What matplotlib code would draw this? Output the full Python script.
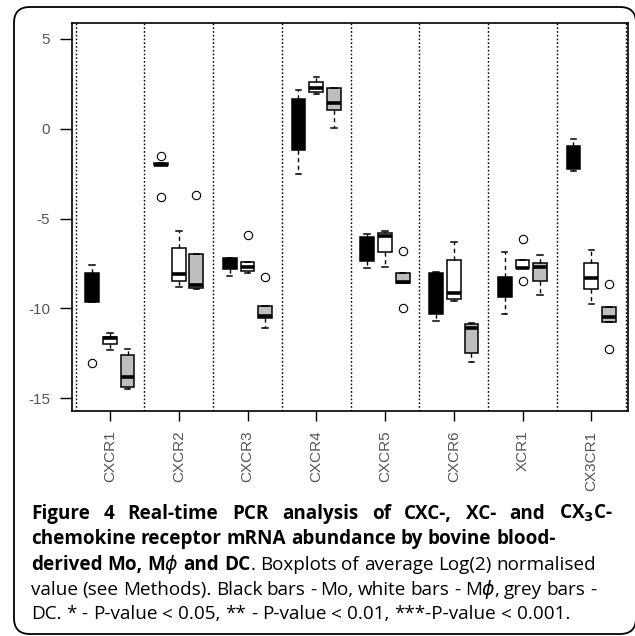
import matplotlib.pyplot as plt
from matplotlib.patches import FancyBboxPatch

plt.rcParams['axes.unicode_minus'] = False

genes = ['CXCR1', 'CXCR2', 'CXCR3', 'CXCR4', 'CXCR5', 'CXCR6', 'XCR1', 'CX3CR1']

# Mo (black boxes)
mo_lo = [-9.65, -2.04, -8.19, -2.52, -7.77, -10.7, -10.34, -2.34]
mo_q1 = [-9.65, -2.04, -7.83, -1.18, -7.37, -10.32, -9.35, -2.26]
mo_med = [-9.2, -2.0, -7.6, 0.2, -6.5, -9.0, -8.8, -1.6]
mo_q3 = [-8.05, -1.89, -7.22, 1.64, -6.03, -8.02, -8.24, -0.94]
mo_hi = [-7.6, -1.89, -7.22, 2.16, -5.85, -8.0, -6.88, -0.59]
mo_out = [[-13.05], [-1.5, -3.8], [], [], [], [], [], []]

# M-phi (white boxes)
mf_lo = [-12.3, -8.8, -8.05, 1.92, -7.7, -9.6, -7.77, -9.78]
mf_q1 = [-12.0, -8.48, -7.91, 2.05, -6.88, -9.5, -7.77, -8.95]
mf_med = [-11.65, -8.09, -7.68, 2.29, -5.97, -9.15, -7.74, -8.3]
mf_q3 = [-11.62, -6.63, -7.41, 2.59, -5.83, -7.33, -7.29, -7.5]
mf_hi = [-11.4, -5.7, -7.41, 2.87, -5.71, -6.3, -7.29, -6.77]
mf_out = [[], [], [-5.92], [], [], [], [-6.14, -8.48], []]

# DC (grey boxes)
dc_lo = [-14.5, -8.9, -11.12, 0.03, -8.61, -12.97, -9.26, -10.75]
dc_q1 = [-14.39, -8.89, -10.56, 1.03, -8.61, -12.51, -8.48, -10.75]
dc_med = [-13.82, -8.68, -10.43, 1.42, -8.52, -11.11, -7.68, -10.47]
dc_q3 = [-12.58, -7.0, -9.87, 2.25, -8.05, -10.9, -7.5, -9.95]
dc_hi = [-12.25, -7.0, -9.87, 2.25, -8.05, -10.82, -7.03, -9.95]
dc_out = [[], [-3.7], [-8.26], [], [-6.79, -10.0], [], [], [-8.63, -12.27]]

groups = [
    (mo_lo, mo_q1, mo_med, mo_q3, mo_hi, mo_out, 'black', -0.26),
    (mf_lo, mf_q1, mf_med, mf_q3, mf_hi, mf_out, 'white', 0.0),
    (dc_lo, dc_q1, dc_med, dc_q3, dc_hi, dc_out, '#bebebe', 0.255),
]

W, H = 635, 636
fig = plt.figure(figsize=(W / 100, H / 100), dpi=100)

# rounded frame around figure + caption
frame = FancyBboxPatch((14 / W, 1 - 634 / H), 622 / W, 627 / H,
                       boxstyle='round,pad=0,rounding_size=0.025',
                       transform=fig.transFigure, fc='none', ec='black',
                       lw=1.3, clip_on=False)
fig.patches.append(frame)

ax = fig.add_axes([72 / W, 1 - 411 / H, 556 / W, 388 / H])

for lo, q1, med, q3, hi, out, col, off in groups:
    stats = []
    for i in range(len(genes)):
        stats.append(dict(whislo=lo[i], q1=q1[i], med=med[i], q3=q3[i],
                          whishi=hi[i], fliers=out[i]))
    pos = [i + 1 + off for i in range(len(genes))]
    ax.bxp(stats, positions=pos, widths=0.2, patch_artist=True,
           manage_ticks=False, capwidths=0.08,
           boxprops=dict(facecolor=col, edgecolor='black', lw=1.1),
           whiskerprops=dict(color='black', lw=1, ls=(0, (3, 2.5))),
           capprops=dict(color='black', lw=1.1),
           medianprops=dict(color='black', lw=2.6, solid_capstyle='butt'),
           flierprops=dict(marker='o', mfc='none', mec='black', ms=6, mew=0.8))

for b in range(len(genes) + 1):
    ax.axvline(b + 0.5, color='black', lw=1, ls=(0, (1.2, 1.5)))

ax.set_xlim(0.446, 8.533)
ax.set_ylim(-15.72, 5.89)
ax.set_yticks([-15, -10, -5, 0, 5])
ax.set_xticks(range(1, len(genes) + 1))
ax.set_xticklabels(genes, rotation=90)
for s in ax.spines.values():
    s.set_linewidth(1.2)
ax.tick_params(axis='y', length=8.6, width=1, pad=7, labelsize=11,
               labelcolor='#555555')
ax.tick_params(axis='x', length=7.2, width=1, pad=7, labelsize=11,
               labelcolor='#555555')
for lab in ax.get_xticklabels() + ax.get_yticklabels():
    lab.set_family(['Liberation Sans', 'DejaVu Sans'])

# caption
fam = ['Open Sans', 'DejaVu Sans']
x0 = 31
caption = [
    (519, [("Figure 4 Real-time PCR analysis of CXC-, XC- and CX$_\\mathbf{3}$C-", 'bold')], 613),
    (544, [("chemokine receptor mRNA abundance by bovine blood-", 'bold')], None),
    (570, [("derived Mo, M$\\phi$ and DC", 'bold'),
           (". Boxplots of average Log(2) normalised", 'normal')], 596),
    (595, [("value (see Methods). Black bars - Mo, white bars - M$\\phi$, grey bars -", 'normal')], 596),
    (619, [("DC. * - P-value < 0.05, ** - P-value < 0.01, ***-P-value < 0.001.", 'normal')], None),
]
r = fig.canvas.get_renderer()


def width_of(s, weight, fs):
    t = fig.text(0, 0, s, fontsize=fs, weight=weight, family=fam)
    w = t.get_window_extent(r).width
    t.remove()
    return w


# font size chosen so the second caption line is as wide as in the figure
fs = 10 * (555 - x0) / width_of(caption[1][1][0][0], 'bold', 10)


def put_line(y, segs, right):
    words = []
    for text, wt in segs:
        for j, p in enumerate(text.split(' ')):
            if j == 0 and words:
                words[-1].append((p, wt))
            else:
                words.append([(p, wt)])
    space = width_of('a a', 'normal', fs) - 2 * width_of('a', 'normal', fs)
    wws = [sum(width_of(p, wt, fs) for p, wt in w) for w in words]
    gap = space
    if right is not None:
        gap = (right - x0 - sum(wws)) / (len(words) - 1)
    x = x0
    for w, ww in zip(words, wws):
        xx = x
        for p, wt in w:
            fig.text(xx / W, 1 - y / H, p, fontsize=fs, weight=wt,
                     family=fam, va='baseline')
            xx += width_of(p, wt, fs)
        x += ww + gap


for y, segs, right in caption:
    put_line(y, segs, right)

fig.savefig('out.png', dpi=100)
